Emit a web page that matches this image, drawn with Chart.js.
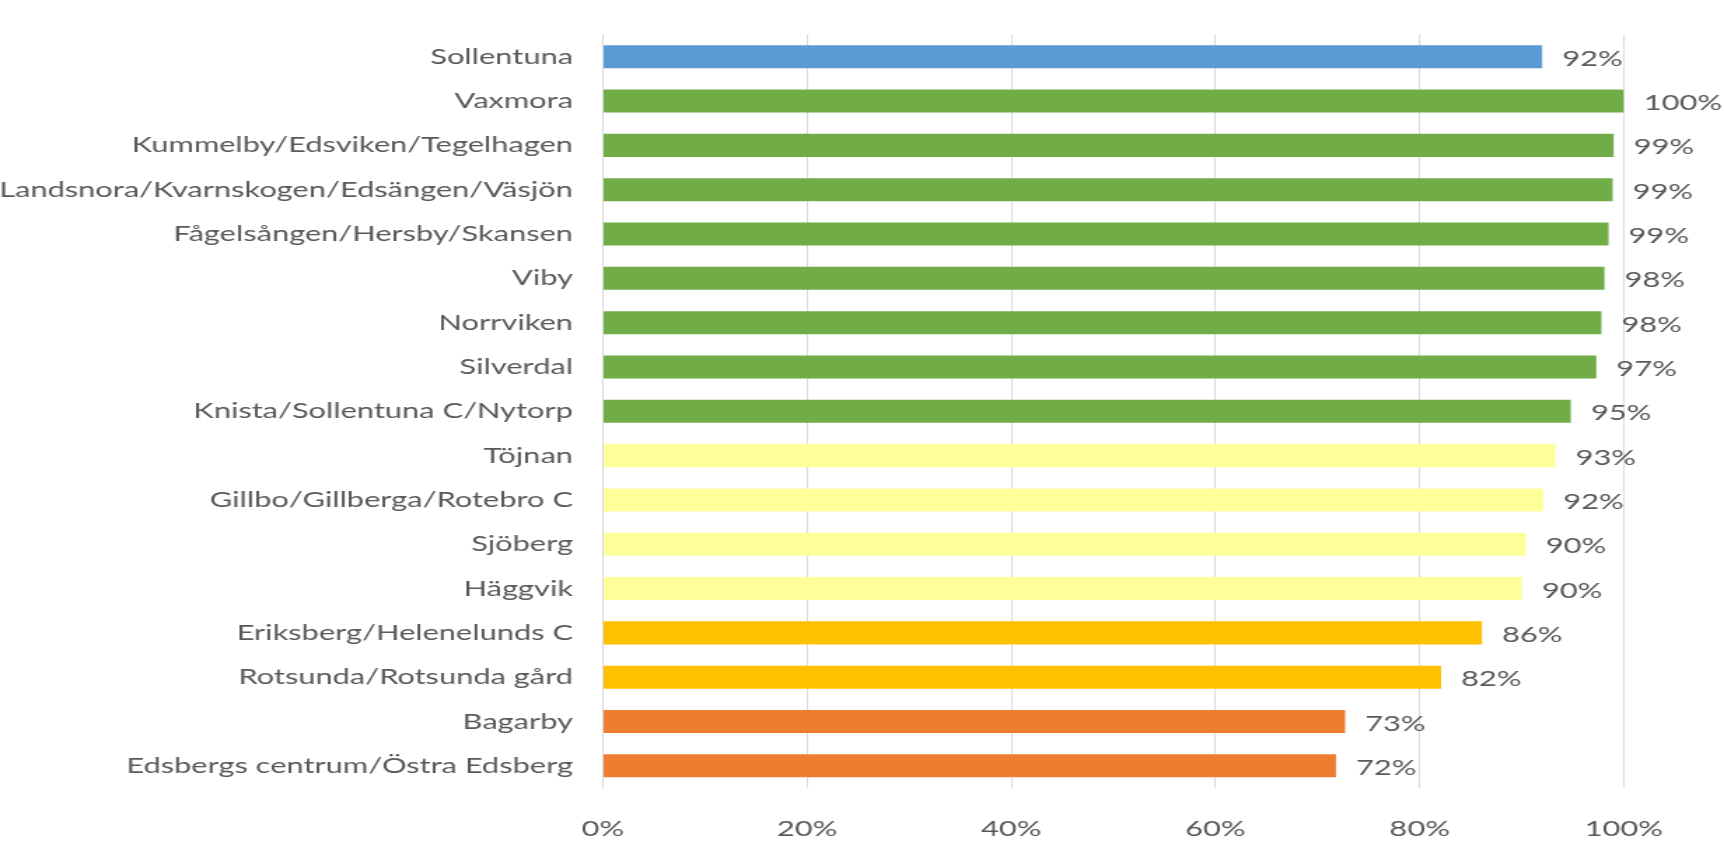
<!DOCTYPE html>
<html>
<head>
<meta charset="utf-8">
<script src="https://cdn.jsdelivr.net/npm/chart.js@4"></script>
<style>
  html, body { margin: 0; padding: 0; background: #fff; overflow: hidden; }
</style>
</head>
<body>
<canvas id="c" width="1231" height="842" style="display:block;width:1724px;height:842px;"></canvas>
<script>
const categories = [
  "Sollentuna",
  "Vaxmora",
  "Kummelby/Edsviken/Tegelhagen",
  "Landsnora/Kvarnskogen/Edsängen/Väsjön",
  "Fågelsången/Hersby/Skansen",
  "Viby",
  "Norrviken",
  "Silverdal",
  "Knista/Sollentuna C/Nytorp",
  "Töjnan",
  "Gillbo/Gillberga/Rotebro C",
  "Sjöberg",
  "Häggvik",
  "Eriksberg/Helenelunds C",
  "Rotsunda/Rotsunda gård",
  "Bagarby",
  "Edsbergs centrum/Östra Edsberg"
];
const values = [92.0, 100, 99.0, 98.9, 98.5, 98.1, 97.8, 97.3, 94.8, 93.3, 92.1, 90.4, 90.0, 86.1, 82.1, 72.7, 71.8];
const groups = ["total", "high", "high", "high", "high", "high", "high", "high", "high",
  "mid", "mid", "mid", "mid", "low", "low", "lowest", "lowest"];
const groupColors = { total: "#5B9BD5", high: "#70AD47", mid: "#FFFF99", low: "#FFC000", lowest: "#ED7D31" };
const xTicks = [0, 20, 40, 60, 80, 100];

const FONT = "Lato, Carlito, 'Open Sans', sans-serif";
const TEXT = "#595959";

const valueLabels = {
  id: "valueLabels",
  afterDatasetsDraw(chart) {
    const ctx = chart.ctx;
    const meta = chart.getDatasetMeta(0);
    ctx.save();
    ctx.font = "22px " + FONT;
    ctx.fillStyle = TEXT;
    ctx.textAlign = "left";
    ctx.textBaseline = "middle";
    meta.data.forEach((bar, i) => {
      ctx.fillText(Math.round(values[i]) + "%", bar.x + 14.3, bar.y + 2);
    });
    ctx.restore();
  }
};

const canvas = document.getElementById("c");
new Chart(canvas, {
  type: "bar",
  data: {
    labels: categories,
    datasets: [{
      data: values,
      backgroundColor: groups.map(g => groupColors[g]),
      borderWidth: 0,
      barPercentage: 0.52,
      categoryPercentage: 1.0
    }]
  },
  options: {
    indexAxis: "y",
    responsive: false,
    animation: false,
    devicePixelRatio: 1,
    layout: { padding: { left: 0, right: 71.5, top: 9, bottom: 0 } },
    plugins: { legend: { display: false }, tooltip: { enabled: false } },
    scales: {
      x: {
        min: 0, max: 100,
        afterBuildTicks(scale) { scale.ticks = xTicks.map(v => ({ value: v })); },
        afterFit(scale) { scale.height = 54; },
        grid: { color: "#D9D9D9", lineWidth: 1, drawTicks: false },
        border: { display: false },
        ticks: {
          color: TEXT,
          font: { family: FONT, size: 22 },
          padding: 28,
          callback: v => v + "%"
        }
      },
      y: {
        afterFit(scale) { scale.width = 430.5; },
        grid: { display: false, drawTicks: false },
        border: { display: true, color: "#D9D9D9", width: 1 },
        ticks: {
          color: TEXT,
          font: { family: FONT, size: 22 },
          padding: 21.4,
          autoSkip: false
        }
      }
    }
  },
  plugins: [valueLabels]
});
canvas.style.width = "1724px";
canvas.style.height = "842px";
</script>
</body>
</html>
